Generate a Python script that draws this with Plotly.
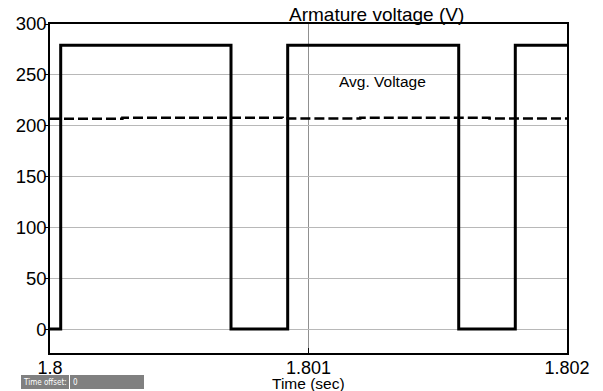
import plotly.graph_objects as go

# Data
switch_times = [1.8, 1.8000414, 1.8007002, 1.8009195, 1.8015811, 1.8018, 1.802]
levels = [0, 279, 0, 279, 0, 279, 279]
avg_t = [1.8, 1.80028, 1.8009, 1.8012, 1.8017, 1.802]
avg_v = [206.8, 207.8, 207.2, 207.8, 207.0, 207.0]
x_ticks = [1.8, 1.801, 1.802]
x_tick_labels = ["1.8", "1.801", "1.802"]
y_ticks = [0, 50, 100, 150, 200, 250, 300]

W, H = 603, 391
L, R, T, B = 50, 36, 24, 38
pw, ph = W - L - R, H - T - B

def px(x):
    return (x - L) / pw

def py(y):
    return (H - B - y) / ph

fig = go.Figure()
fig.add_trace(go.Scatter(x=switch_times, y=levels, mode="lines", line_shape="hv",
                         line=dict(color="black", width=3), showlegend=False))
fig.add_trace(go.Scatter(x=avg_t, y=avg_v, mode="lines", line_shape="hv",
                         line=dict(color="black", width=2.5, dash="10px,4px"), showlegend=False))

font = "Liberation Sans, Arial, sans-serif"
small = "Liberation Sans Narrow, DejaVu Sans Condensed, sans-serif"
fig.update_layout(
    width=W, height=H, margin=dict(l=L, r=R, t=T, b=B),
    paper_bgcolor="white", plot_bgcolor="white",
    font=dict(family=font, color="black"),
    xaxis=dict(range=[1.8, 1.802], tickvals=x_ticks, ticktext=x_tick_labels,
               showgrid=True, gridcolor="#909090", gridwidth=1,
               showline=True, linecolor="black", linewidth=1.5, mirror=True,
               ticks="inside", ticklen=5, tickcolor="black",
               ticklabelstandoff=-2,
               tickfont=dict(size=18), zeroline=False),
    yaxis=dict(range=[-23.5, 300], tickvals=y_ticks,
               showgrid=True, gridcolor="#b8b8b8", gridwidth=1,
               showline=True, linecolor="black", linewidth=1.5, mirror=True,
               ticks="outside", ticklen=3, tickcolor="black",
               ticklabelstandoff=-5,
               tickfont=dict(size=18.5), zeroline=False),
    annotations=[
        dict(text="Armature voltage (V)", x=px(376), y=py(14), xref="paper", yref="paper",
             xanchor="center", yanchor="middle", showarrow=False, font=dict(size=19)),
        dict(text="Avg. Voltage", x=1.801288, y=py(81), xref="x", yref="paper",
             xanchor="center", yanchor="middle", showarrow=False, font=dict(size=15.5)),
        dict(text="Time (sec)", x=1.801, y=py(383), xref="x", yref="paper",
             xanchor="center", yanchor="middle", showarrow=False, font=dict(size=15.5)),
        dict(text="Time offset:", x=px(21), y=py(382), xref="paper", yref="paper",
             xanchor="left", yanchor="middle", showarrow=False,
             font=dict(size=8, color="white", family=small)),
        dict(text="0", x=px(71), y=py(382), xref="paper", yref="paper",
             xanchor="left", yanchor="middle", showarrow=False,
             font=dict(size=8, color="white", family=small)),
    ],
    shapes=[
        dict(type="rect", xref="paper", yref="paper", x0=px(21), x1=px(69), y0=py(389), y1=py(375),
             fillcolor="#808080", line=dict(width=0), layer="above"),
        dict(type="rect", xref="paper", yref="paper", x0=px(70), x1=px(144), y0=py(389), y1=py(375),
             fillcolor="#808080", line=dict(width=0), layer="above"),
    ],
)

fig.write_html("out.html")
